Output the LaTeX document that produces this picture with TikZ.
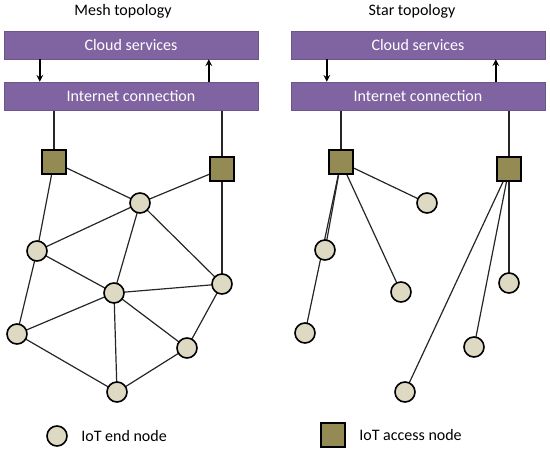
\documentclass[tikz,border=0pt]{standalone}
\usepackage{fontspec}
\setmainfont{Carlito}
\usetikzlibrary{positioning, backgrounds}
\definecolor{cloudpurple}{HTML}{8064A2}
\definecolor{accessolive}{HTML}{948A54}
\definecolor{endbeige}{HTML}{DDD9C3}

\begin{document}
\begin{tikzpicture}[x=1pt, y=-1pt, >=stealth,
	font=\fontsize{16}{18}\selectfont,
	every bar/.style={draw=cloudpurple!85!black, fill=cloudpurple, text=white,
		minimum width=254pt, minimum height=28pt, inner sep=0pt},
	access node/.style={draw=black, line width=1.6pt, fill=accessolive,
		minimum size=24pt, inner sep=0pt},
	end node/.style={circle, draw=black, line width=1.6pt, fill=endbeige,
		minimum size=20pt, inner sep=0pt},
	link/.style={line width=1.2pt, color=black!85},
	updown/.style={->, line width=2pt}]

		\useasboundingbox (0,0) rectangle (550,452);

		% Titles
		\node (title-mesh) at (123,11) {Mesh topology};
		\node (title-star) at (412,11) {Star topology};

		% Mesh bars
		\node [every bar/.try] (cloud-mesh) at (131,45) {Cloud services};
		\node [every bar/.try] (inet-mesh) at (131,96) {Internet connection};

		% Star bars
		\node [every bar/.try] (cloud-star) at (418,45) {Cloud services};
		\node [every bar/.try] (inet-star) at (418,96) {Internet connection};

		% Cloud <-> internet arrows
		\foreach \t in {mesh, star} {
			\draw [updown] ([xshift=36pt]cloud-\t.south west) --
				([xshift=36pt]inet-\t.north west);
			\draw [updown] ([xshift=205pt]inet-\t.north west) --
				([xshift=205pt]cloud-\t.south west);
		}

		% Mesh access nodes
		\node [access node/.try] (macc-1) at (54,162) {};
		\node [access node/.try] (macc-2) at (222,169) {};

		% Mesh end nodes
		\foreach \x/\y [count=\i] in {140/203, 37/251, 114/293, 222/284,
			17/334, 187/348, 117/392}
			\node [end node/.try] (mesh-\i) at (\x,\y) {};

		% Star access nodes
		\node [access node/.try] (sacc-1) at (341,162) {};
		\node [access node/.try] (sacc-2) at (509,169) {};

		% Star end nodes
		\foreach \x/\y [count=\i] in {427/203, 325/250, 401/292, 305/333,
			509/283, 474/347, 405/392}
			\node [end node/.try] (star-\i) at (\x,\y) {};

		% Links (behind the nodes)
		\begin{pgfonlayer}{background}
			\draw [link] (inet-mesh.south -| macc-1) -- (macc-1);
			\draw [link] (inet-mesh.south -| macc-2) -- (macc-2);
			\draw [link] (inet-star.south -| sacc-1) -- (sacc-1);
			\draw [link] (inet-star.south -| sacc-2) -- (sacc-2);

			\foreach \a/\b in {macc-1/mesh-1, macc-1/mesh-2, macc-2/mesh-1,
				macc-2/mesh-4, mesh-1/mesh-2, mesh-1/mesh-3, mesh-1/mesh-4,
				mesh-2/mesh-3, mesh-2/mesh-5, mesh-3/mesh-4, mesh-3/mesh-5,
				mesh-3/mesh-6, mesh-3/mesh-7, mesh-4/mesh-6, mesh-5/mesh-7,
				mesh-6/mesh-7}
				\draw [link] (\a.center) -- (\b.center);

			\foreach \a/\b in {sacc-1/star-1, sacc-1/star-2, sacc-1/star-3,
				sacc-1/star-4, sacc-2/star-5, sacc-2/star-6, sacc-2/star-7}
				\draw [link] (\a.center) -- (\b.center);
		\end{pgfonlayer}

		% Legend
		\node [end node/.try] (leg-end) at (57,436) {};
		\node [right=10pt of leg-end] (leg-end-text) {IoT end node};
		\node [access node/.try] (leg-acc) at (333,435) {};
		\node [right=10pt of leg-acc] (leg-acc-text) {IoT access node};

	\end{tikzpicture}
\end{document}
